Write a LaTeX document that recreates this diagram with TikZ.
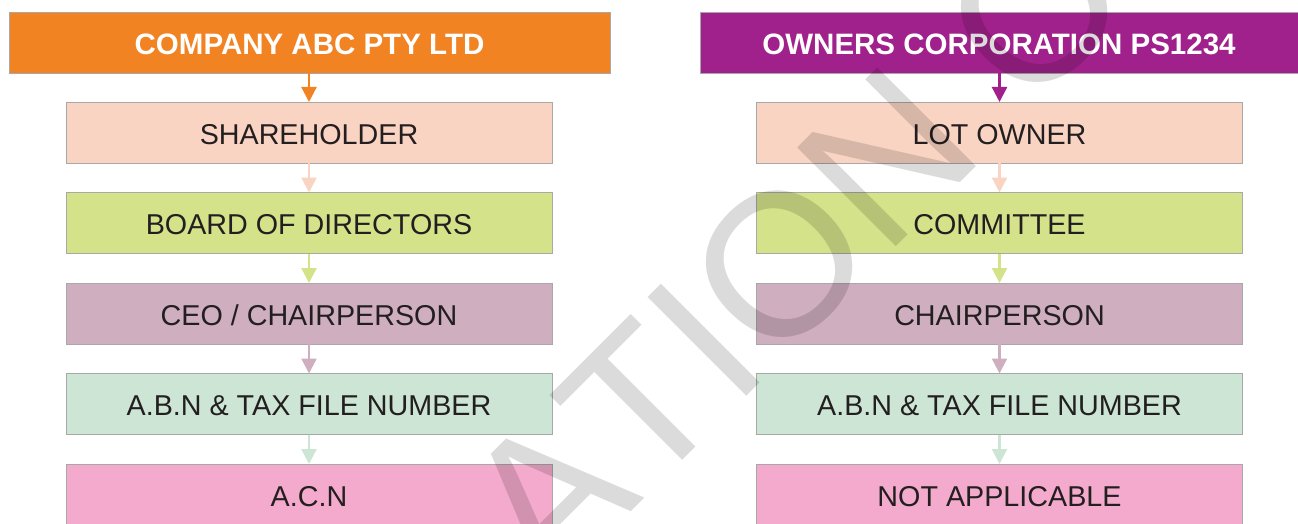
\documentclass[tikz,border=0pt]{standalone}
\usepackage{fontspec}
\setmainfont{Liberation Sans}
\newfontfamily\wmfont[Kerning=Off]{Liberation Sans}
\usetikzlibrary{arrows.meta}

\definecolor{hdrorange}{HTML}{F28322}
\definecolor{hdrpurple}{HTML}{A0218B}
\definecolor{peach}{HTML}{FAD4C2}
\definecolor{lime}{HTML}{D4E28A}
\definecolor{mauve}{HTML}{CFAEBF}
\definecolor{mint}{HTML}{CCE5D4}
\definecolor{pinkbox}{HTML}{F4AACD}
\definecolor{inkdark}{HTML}{231F20}
\definecolor{edgegray}{HTML}{A8A8A8}

\begin{document}
\begin{tikzpicture}[x=1pt, y=-1pt,
  levelbox/.style={draw=edgegray, line width=0.8pt, minimum width=486pt,
    minimum height=61pt, inner sep=0pt, outer sep=0pt,
    text height=23.6pt, text depth=0pt, text=inkdark,
    font=\fontsize{28.7}{30}\selectfont},
  header/.style={levelbox, text=white, text height=25pt,
    font=\bfseries\fontsize{29.5}{31}\selectfont},
  link/.style={line width=2.3pt, -{Triangle[length=15pt,width=15pt]}},
  watermark/.style={rotate=45, inner sep=0pt, text=black, text opacity=0.14,
    font=\wmfont\fontsize{203}{203}\selectfont},
]
\useasboundingbox (0,0) rectangle (1298,524);

% company structure
\node[header, fill=hdrorange, minimum width=601pt] (c0) at (309.5,42.5) {COMPANY ABC PTY LTD};
\node[levelbox, fill=peach]   (c1) at (309,132.5) {SHAREHOLDER};
\node[levelbox, fill=lime]    (c2) at (309,223)   {BOARD OF DIRECTORS};
\node[levelbox, fill=mauve]   (c3) at (309,313.5) {CEO / CHAIRPERSON};
\node[levelbox, fill=mint]    (c4) at (309,404)   {A.B.N \& TAX FILE NUMBER};
\node[levelbox, fill=pinkbox] (c5) at (309,494.5) {A.C.N};

% owners corporation structure
\node[header, fill=hdrpurple, minimum width=598pt] (o0) at (999,42.5) {OWNERS CORPORATION PS1234};
\node[levelbox, fill=peach]   (o1) at (999.5,132.5) {LOT OWNER};
\node[levelbox, fill=lime]    (o2) at (999.5,223)   {COMMITTEE};
\node[levelbox, fill=mauve]   (o3) at (999.5,313.5) {CHAIRPERSON};
\node[levelbox, fill=mint]    (o4) at (999.5,404)   {A.B.N \& TAX FILE NUMBER};
\node[levelbox, fill=pinkbox] (o5) at (999.5,494.5) {NOT APPLICABLE};

% connectors, each in the colour of the box it leaves
\draw[link, hdrorange] (c1.north |- c0.south) -- (c1.north);
\draw[link, peach]     (c1.south) -- (c2.north);
\draw[link, lime]      (c2.south) -- (c3.north);
\draw[link, mauve]     (c3.south) -- (c4.north);
\draw[link, mint]      (c4.south) -- (c5.north);

\draw[link, hdrpurple] (o1.north |- o0.south) -- (o1.north);
\draw[link, peach]     (o1.south) -- (o2.north);
\draw[link, lime]      (o2.south) -- (o3.north);
\draw[link, mauve]     (o3.south) -- (o4.north);
\draw[link, mint]      (o4.south) -- (o5.north);

% diagonal watermark lettering
\coordinate (wmbase) at (733,410);
\node[watermark, anchor=base east] (wm1) at (wmbase) {AT};
\node[watermark, anchor=base west] (wm2) at (wmbase) {ION O};
\end{tikzpicture}
\end{document}
